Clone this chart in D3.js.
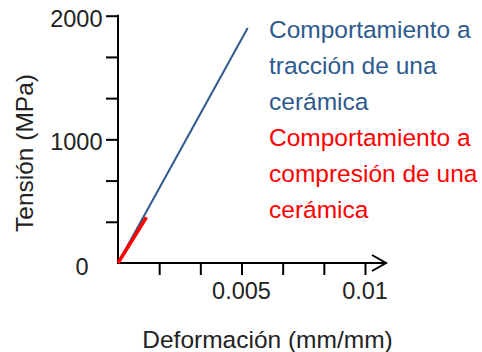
<!DOCTYPE html>
<html><head><meta charset="utf-8">
<script src="https://cdn.jsdelivr.net/npm/d3@7"></script>
<style>body{margin:0;background:#fff}svg{display:block}text{font-family:"Liberation Sans",Arial,sans-serif}</style>
</head><body><div id="c"></div>
<script>
// data
const tensionCurve = [[0,0],[0.00525,1900]];   // tracción
const compressionCurve = [[0,0],[0.00115,370]]; // compresión
const xTicks = [1,2,3,4,5,6].map(k=>k*0.01/6);
const yTicks = [1,2,3,4,5,6].map(k=>k*2000/6);
const xLabels = [0.005, 0.01];
const xLabelText = ["0.005","0.01"];
const yLabels = [1000, 2000];
const yLabelText = ["1000","2000"];
const legendBlue = ["Comportamiento a","tracción de una","cerámica"];
const legendRed = ["Comportamiento a","compresión de una","cerámica"];
const xTitle = "Deformación (mm/mm)";
const yTitle = "Tensión (MPa)";

const W=482,H=352;
const svg=d3.select("#c").append("svg").attr("width",W).attr("height",H);
const x=d3.scaleLinear().domain([0,0.01]).range([118,365]);
const y=d3.scaleLinear().domain([0,2000]).range([263,15.7]);
const blue="#2e5a8e", red="#ff0000";

// y axis
const ya=svg.append("g").attr("transform",`translate(${x(0)},0)`)
  .call(d3.axisLeft(y).tickValues(yTicks).tickSize(12).tickFormat(""));
ya.select(".domain").remove();
ya.selectAll(".tick line").attr("stroke","#000").attr("stroke-width",2);
svg.append("line").attr("x1",x(0)).attr("x2",x(0)).attr("y1",y(0)+1).attr("y2",y(2000)-1)
  .attr("stroke","#000").attr("stroke-width",2);
svg.selectAll(".ylab").data(yLabels).join("text").attr("class","ylab")
  .attr("x",x(0)-15.5).attr("y",d=>y(d)+11).attr("text-anchor","end")
  .attr("font-size",23.5).attr("fill","#222").text((d,i)=>yLabelText[i]);
svg.append("text").attr("x",x(0)-29.5).attr("y",y(0)+11.5).attr("text-anchor","end")
  .attr("font-size",23.5).attr("fill","#222").text("0");

// x axis
const xa=svg.append("g").attr("transform",`translate(0,${y(0)})`)
  .call(d3.axisBottom(x).tickValues(xTicks).tickSize(12).tickFormat(""));
xa.select(".domain").remove();
xa.selectAll(".tick line").attr("stroke","#000").attr("stroke-width",2);
svg.append("line").attr("x1",x(0)-1).attr("x2",386).attr("y1",y(0)).attr("y2",y(0))
  .attr("stroke","#000").attr("stroke-width",2);
svg.append("path").attr("d",`M372,${y(0)-8}L386,${y(0)}L372,${y(0)+8}`)
  .attr("fill","none").attr("stroke","#000").attr("stroke-width",2);
svg.selectAll(".xlab").data(xLabels).join("text").attr("class","xlab")
  .attr("x",d=>x(d)).attr("y",298.5).attr("text-anchor","middle")
  .attr("font-size",23.5).attr("fill","#222").text((d,i)=>xLabelText[i]);

// titles
svg.append("text").attr("x",267.5).attr("y",347.5).attr("text-anchor","middle")
  .attr("font-size",24.5).attr("fill","#222").text(xTitle);
svg.append("text").attr("transform","translate(33,153) rotate(-90)").attr("text-anchor","middle")
  .attr("font-size",24.5).attr("fill","#222").text(yTitle);

// lines
const line=d3.line().x(d=>x(d[0])).y(d=>y(d[1]));
svg.append("path").datum(tensionCurve).attr("d",line).attr("fill","none")
  .attr("stroke",blue).attr("stroke-width",2);
svg.append("path").datum(compressionCurve).attr("d",line).attr("fill","none")
  .attr("stroke",red).attr("stroke-width",3.5);

// legend text
svg.selectAll(".lb").data(legendBlue).join("text").attr("class","lb")
  .attr("x",269).attr("y",(d,i)=>37.5+i*36).attr("font-size",24.5).attr("fill",blue).text(d=>d);
svg.selectAll(".lr").data(legendRed).join("text").attr("class","lr")
  .attr("x",269).attr("y",(d,i)=>145.5+i*36).attr("font-size",24.5).attr("fill",red).text(d=>d);
</script></body></html>
